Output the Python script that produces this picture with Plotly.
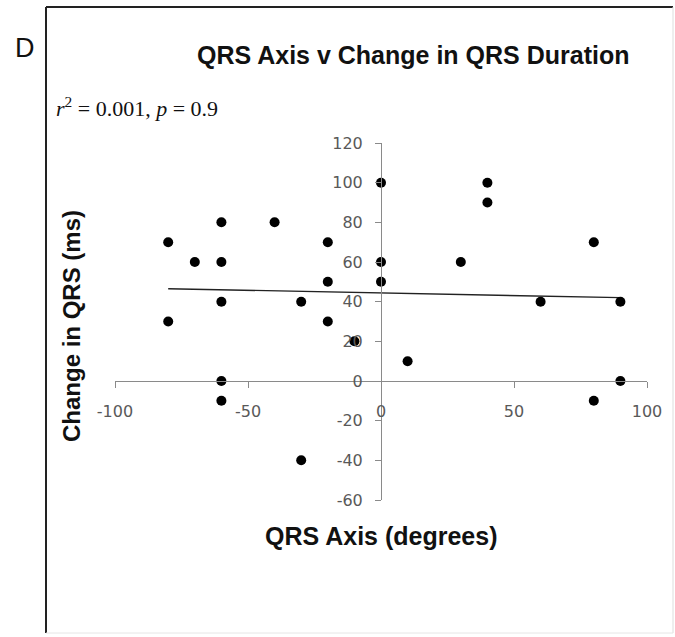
import plotly.graph_objects as go

# Data
qrs_axis = [-80, -80, -70, -60, -60, -60, -60, -60, -40, -30, -30, -20, -20, -20,
            -10, 0, 0, 0, 10, 30, 40, 40, 60, 80, 80, 90, 90]
qrs_change = [70, 30, 60, 80, 60, 40, 0, -10, 80, 40, -40, 70, 50, 30,
              20, 100, 60, 50, 10, 60, 100, 90, 40, 70, -10, 40, 0]
# Linear trend line end points as drawn in the reference
trend_x = [-80, 90]
trend_y = [46.5, 42.0]

x_ticks = [-100, -50, 0, 50, 100]
x_tick_labels = ["-100", "-50", "0", "50", "100"]
y_ticks = [-60, -40, -20, 0, 20, 40, 60, 80, 100, 120]
y_tick_labels = ["-60", "-40", "-20", "0", "20", "40", "60", "80", "100", "120"]

X_RANGE = [-100, 100]
Y_RANGE = [-60, 120]

fig = go.Figure()
fig.add_trace(go.Scatter(x=trend_x, y=trend_y, mode="lines",
                         line=dict(color="#222222", width=1.3),
                         hoverinfo="skip", showlegend=False))
fig.add_trace(go.Scatter(x=qrs_axis, y=qrs_change, mode="markers",
                         marker=dict(color="black", size=10),
                         cliponaxis=False, showlegend=False))

W, H = 675, 637
ml, mr, mt, mb = 115, 28, 143, 137
axis_col = "#8a8a8a"
tick_font = dict(family="DejaVu Sans", size=16, color="#595959")

xpos = (0 - Y_RANGE[0]) / (Y_RANGE[1] - Y_RANGE[0])
ypos = (0 - X_RANGE[0]) / (X_RANGE[1] - X_RANGE[0])

fig.update_layout(
    width=W, height=H,
    margin=dict(l=ml, r=mr, t=mt, b=mb),
    paper_bgcolor="white", plot_bgcolor="white",
    xaxis=dict(range=X_RANGE, tickvals=x_ticks, ticktext=x_tick_labels,
               showgrid=False, zeroline=False,
               showline=True, linecolor=axis_col, linewidth=1,
               ticks="outside", ticklen=6, tickcolor=axis_col,
               tickfont=tick_font, anchor="free", position=xpos,
               ticklabelstandoff=10),
    yaxis=dict(range=Y_RANGE, tickvals=y_ticks, ticktext=y_tick_labels,
               showgrid=False, zeroline=False,
               showline=True, linecolor=axis_col, linewidth=1,
               ticks="outside", ticklen=6, tickcolor=axis_col,
               tickfont=tick_font, anchor="free", position=ypos,
               ticklabelstandoff=9),
)

def px_x(px):
    return (px - ml) / (W - ml - mr)

def px_y(py):
    return 1 - (py - mt) / (H - mt - mb)

# Border box of the panel
fig.add_shape(type="line", xref="paper", yref="paper",
              x0=px_x(46), x1=px_x(46), y0=px_y(7), y1=px_y(633),
              line=dict(color="#222222", width=2))
fig.add_shape(type="line", xref="paper", yref="paper",
              x0=px_x(46), x1=px_x(673), y0=px_y(7), y1=px_y(7),
              line=dict(color="#222222", width=2))
fig.add_shape(type="line", xref="paper", yref="paper",
              x0=px_x(673), x1=px_x(673), y0=px_y(7), y1=px_y(633),
              line=dict(color="#dddddd", width=1))
fig.add_shape(type="line", xref="paper", yref="paper",
              x0=px_x(46), x1=px_x(673), y0=px_y(633), y1=px_y(633),
              line=dict(color="#e6e6e6", width=1))

bold = dict(family="Liberation Sans", size=25, color="#111111")
fig.add_annotation(text="<b>QRS Axis v Change in QRS Duration</b>", xref="paper", yref="paper",
                   x=px_x(413), y=px_y(55), showarrow=False, font=bold,
                   xanchor="center", yanchor="middle")
fig.add_annotation(text="D", xref="paper", yref="paper",
                   x=px_x(25), y=px_y(48), showarrow=False,
                   font=dict(family="Liberation Sans", size=27, color="#111111"),
                   xanchor="center", yanchor="middle")
fig.add_annotation(text="<i>r</i><sup>2</sup> = 0.001, <i>p</i> = 0.9", xref="paper", yref="paper",
                   x=px_x(54), y=px_y(107), showarrow=False,
                   font=dict(family="Liberation Serif", size=22, color="#111111"),
                   xanchor="left", yanchor="middle")
fig.add_annotation(text="<b>QRS Axis (degrees)</b>", xref="paper", yref="paper",
                   x=px_x(381), y=px_y(536), showarrow=False, font=bold,
                   xanchor="center", yanchor="middle")
fig.add_annotation(text="<b>Change in QRS (ms)</b>", xref="paper", yref="paper",
                   x=px_x(71), y=px_y(326), showarrow=False,
                   font=dict(family="Liberation Sans", size=24, color="#111111"),
                   textangle=-90, xanchor="center", yanchor="middle")

fig.write_html("out.html")
